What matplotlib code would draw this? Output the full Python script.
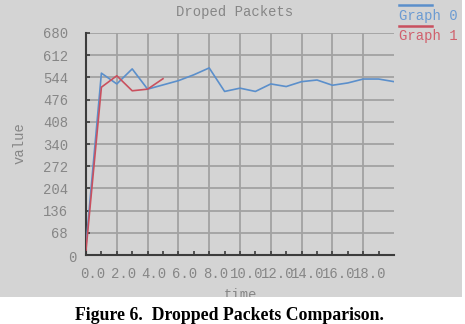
import matplotlib.pyplot as plt
import matplotlib.transforms as mtransforms
from matplotlib.lines import Line2D
from matplotlib.patches import Rectangle

# data
time_0 = list(range(21))
graph_0 = [30, 557, 524, 570, 508, 521, 534, 552, 573, 501, 511,
           501, 524, 516, 531, 536, 520, 527, 539, 539, 531]
time_1 = [0, 1, 2, 3, 4, 5]
graph_1 = [15, 514, 549, 503, 508, 540]

y_ticks = [0, 68, 136, 204, 272, 340, 408, 476, 544, 612, 680]
x_ticks = [0, 2, 4, 6, 8, 10, 12, 14, 16, 18]
x_labels = ["0.0", "2.0", "4.0", "6.0", "8.0", "10.0", "12.0", "14.0", "16.0", "18.0"]
series_names = ["Graph 0", "Graph 1"]

BG = "#d4d4d4"
GRID = "#a2a2a2"
TEXT = "#868686"
BLUE = "#5b8fcb"
RED = "#c9505e"
MONO = "Liberation Mono"

W, H = 465, 324
fig = plt.figure(figsize=(W / 100, H / 100), dpi=100, facecolor="white")
fig.patches.append(Rectangle((0, 27 / H), 462 / W, 1 - 27 / H, transform=fig.transFigure,
                             facecolor=BG, edgecolor="none", zorder=-1))
fig.patches.append(Rectangle((0, 0), 1, 27 / H, transform=fig.transFigure,
                             facecolor="white", edgecolor="none", zorder=1))

ax = fig.add_axes([86 / W, 69 / H, 308 / W, 222 / H])
ax.set_facecolor("none")
ax.plot(time_0, graph_0, color=BLUE, lw=1.2, zorder=3)
ax.plot(time_1, graph_1, color=RED, lw=1.2, zorder=4)

ax.set_xlim(0, 20)
ax.set_ylim(0, 680)
ax.set_xticks(x_ticks)
ax.set_xticklabels(x_labels)
ax.set_xticks(range(1, 20), minor=True)
ax.set_yticks(y_ticks)
ax.grid(True, which="major", color=GRID, lw=1.3)
ax.set_axisbelow(True)

for side in ["top", "right"]:
    ax.spines[side].set_visible(False)
for side in ["left", "bottom"]:
    ax.spines[side].set_color("#3c3c3c")
    ax.spines[side].set_linewidth(1.5)

ax.tick_params(axis="x", which="both", direction="in", length=3, width=1.2,
               color="#3c3c3c", pad=8.5, labelsize=10, labelcolor=TEXT)
ax.tick_params(axis="y", direction="in", length=3, width=1.2,
               color="#3c3c3c", pad=13, labelsize=10, labelcolor=TEXT)
for lab in ax.get_xticklabels() + ax.get_yticklabels():
    lab.set_fontfamily(MONO)

shift_x = mtransforms.ScaledTranslation(6.5 / 100, 0, fig.dpi_scale_trans)
for lab in ax.get_xticklabels():
    lab.set_transform(lab.get_transform() + shift_x)
zero_shift = mtransforms.ScaledTranslation(9 / 100, -2 / 100, fig.dpi_scale_trans)
zero_lab = ax.get_yticklabels()[0]
zero_lab.set_transform(zero_lab.get_transform() + zero_shift)

ax.set_xlabel("time", family=MONO, fontsize=10, color=TEXT, labelpad=5)
fig.text(20 / W, 1 - 143 / H, "value", rotation=90, family=MONO, fontsize=10,
         color=TEXT, ha="center", va="center")
fig.text(235 / W, 1 - 12 / H, "Droped Packets", family=MONO, fontsize=10,
         color=TEXT, ha="center", va="center")

# legend in xgraph style: line above each name
legend_text = ["#6b9bd2", "#d0606c"]
for i, (name, col) in enumerate(zip(series_names, [BLUE, RED])):
    y_line = 1 - (5 + 21 * i) / H
    fig.add_artist(Line2D([399 / W, 432 / W], [y_line, y_line], color=col, lw=1.8,
                          transform=fig.transFigure))
    fig.text(399 / W, 1 - (16 + 20 * i) / H, name, family=MONO, fontsize=10,
             color=legend_text[i], ha="left", va="center")

fig.text(229 / W, 1 - 315 / H, "Figure 6.  Dropped Packets Comparison.",
         family="Liberation Serif", fontweight="bold", fontsize=12.8,
         color="black", ha="center", va="center", zorder=5)

fig.savefig("out.png", dpi=100, facecolor="white")
